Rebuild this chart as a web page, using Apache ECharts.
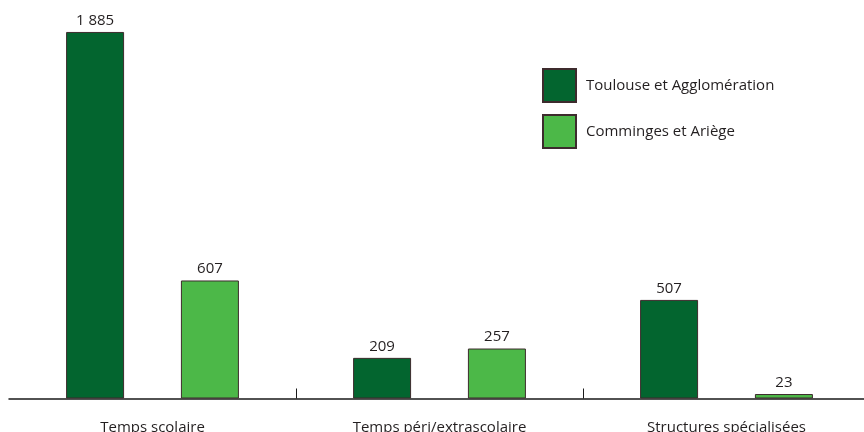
<!DOCTYPE html>
<html><head><meta charset="utf-8">
<script src="https://cdn.jsdelivr.net/npm/echarts@6/dist/echarts.min.js"></script>
<style>html,body{margin:0;padding:0;background:#fff;overflow:hidden}#c{width:864px;height:432px}</style>
</head><body><div id="c"></div>
<script>
const categories = ['Temps scolaire', 'Temps péri/extrascolaire', 'Structures spécialisées'];
const seriesNames = ['Toulouse et Agglomération', 'Comminges et Ariège'];
const toulouse = [1885, 209, 507];
const comminges = [607, 257, 23];

const FONT = '"Open Sans", "Noto Sans", sans-serif';
const TXT = '#231f20';
const BORDER = '#3d2b2d';
const fmt = p => String(p.value).replace(/\B(?=(\d{3})+(?!\d))/g, ' ');

const chart = echarts.init(document.getElementById('c'));
chart.setOption({
  animation: false,
  backgroundColor: '#ffffff',
  grid: { left: 9, top: 9.6, right: -6, bottom: 33.5, containLabel: false, outerBoundsMode: 'none' },
  legend: {
    orient: 'vertical', left: 542, top: 68, padding: 0,
    itemWidth: 33, itemHeight: 33, itemGap: 11,
    icon: 'rect',
    textStyle: { fontFamily: FONT, fontSize: 15, color: TXT, padding: [0, 0, 0, 5] },
    data: seriesNames
  },
  xAxis: {
    type: 'category', data: categories,
    axisLine: { lineStyle: { color: '#1a1a1a', width: 1.5 } },
    axisTick: { show: true, inside: true, length: 10, interval: i => i > 0, lineStyle: { color: '#1a1a1a', width: 1 } },
    axisLabel: { fontFamily: FONT, fontSize: 15, color: TXT, margin: 22 }
  },
  yAxis: { type: 'value', min: 0, max: 2000, show: false, splitLine: { show: false } },
  series: [
    {
      name: seriesNames[0], type: 'bar', data: toulouse,
      barWidth: 58, barGap: '98%',
      itemStyle: { color: '#03652f', borderColor: BORDER, borderWidth: 1 },
      label: { show: true, position: 'top', distance: 4, fontFamily: FONT, fontSize: 15, color: TXT, formatter: fmt }
    },
    {
      name: seriesNames[1], type: 'bar', data: comminges,
      barWidth: 58, barGap: '98%',
      itemStyle: { color: '#4cb848', borderColor: BORDER, borderWidth: 1 },
      label: { show: true, position: 'top', distance: 4, fontFamily: FONT, fontSize: 15, color: TXT, formatter: fmt }
    }
  ]
});
</script></body></html>
